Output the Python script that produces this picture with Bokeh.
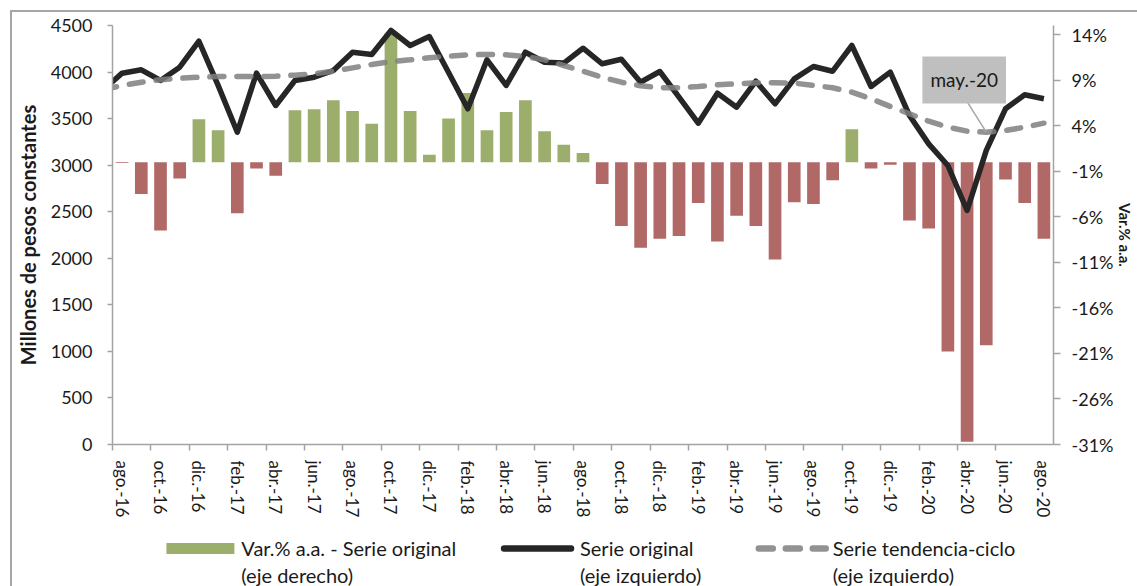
import math
from bokeh.plotting import figure
from bokeh.layouts import column
from bokeh.models import (Range1d, LinearAxis, FixedTicker, PrintfTickFormatter,
                          Label, ColumnDataSource)
from bokeh.core.properties import value
from bokeh.embed import file_html
from bokeh.resources import INLINE

# ---------------- data ----------------
months = ["jul.-16", "ago.-16", "sep.-16", "oct.-16", "nov.-16", "dic.-16",
          "ene.-17", "feb.-17", "mar.-17", "abr.-17", "may.-17", "jun.-17",
          "jul.-17", "ago.-17", "sep.-17", "oct.-17", "nov.-17", "dic.-17",
          "ene.-18", "feb.-18", "mar.-18", "abr.-18", "may.-18", "jun.-18",
          "jul.-18", "ago.-18", "sep.-18", "oct.-18", "nov.-18", "dic.-18",
          "ene.-19", "feb.-19", "mar.-19", "abr.-19", "may.-19", "jun.-19",
          "jul.-19", "ago.-19", "sep.-19", "oct.-19", "nov.-19", "dic.-19",
          "ene.-20", "feb.-20", "mar.-20", "abr.-20", "may.-20", "jun.-20",
          "jul.-20", "ago.-20"]

# Var.% a.a. - Serie original (right axis); jul.-16 not shown in the chart
var_pct = [float("nan"),
           -0.1, -3.5, -7.5, -1.8, 4.7,
           3.5, -5.6, -0.7, -1.5, 5.7, 5.8, 6.8, 5.6, 4.2, 14.1, 5.6, 0.8,
           4.8, 7.6, 3.5, 5.5, 6.8, 3.4, 1.9, 1.0, -2.4, -7.0, -9.4, -8.4,
           -8.1, -4.5, -8.7, -5.9, -7.0, -10.7, -4.4, -4.6, -2.0, 3.6, -0.7, -0.3,
           -6.4, -7.3, -20.8, -30.7, -20.1, -1.9, -4.5, -8.4]

# Serie original (left axis, millones de pesos constantes)
serie_original = [3807,
                  3988, 4024, 3910, 4052, 4331,
                  3856, 3354, 3988, 3641, 3909, 3945, 4017, 4213, 4189, 4446, 4285, 4382,
                  3995, 3605, 4131, 3856, 4213, 4106, 4096, 4256, 4089, 4138, 3891, 4006,
                  3730, 3451, 3773, 3623, 3902, 3659, 3927, 4060, 4009, 4285, 3845, 3999,
                  3533, 3229, 2996, 2513, 3158, 3605, 3756, 3713]

# Serie tendencia-ciclo (left axis)
tendencia = [3809,
             3856, 3891, 3917, 3934, 3945,
             3952, 3952, 3952, 3956, 3967, 3981, 4009, 4045, 4081, 4113, 4131, 4153,
             4170, 4185, 4189, 4185, 4167, 4131, 4070, 4009, 3945, 3891, 3852, 3831,
             3831, 3845, 3863, 3874, 3884, 3884, 3881, 3856, 3831, 3784, 3713, 3630,
             3552, 3472, 3408, 3365, 3354, 3372, 3408, 3451]

left_ticks = list(range(0, 4501, 500))
right_ticks = list(range(-31, 15, 5))
annot_month = "may.-20"

legend_labels = [("Var.% a.a. - Serie original", "(eje derecho)"),
                 ("Serie original", "(eje izquierdo)"),
                 ("Serie tendencia-ciclo", "(eje izquierdo)")]

# ---------------- styling ----------------
FONT = "Lato"
AXIS_COLOR = "#a3a3a3"
TEXT_COLOR = "#1a1a1a"
GREEN = "#9bae6b"
RED = "#b06967"
BLACK = "#262626"
GRAY = "#7f7f7f"
TREND_DASH = "14 13"

xs = [i - 1 for i in range(len(months))]          # ago.-16 -> 0
colors = [GREEN if (v == v and v >= 0) else RED for v in var_pct]

src = ColumnDataSource(dict(x=xs, var=var_pct, orig=serie_original,
                            trend=tendencia, color=colors))

p = figure(frame_width=941, frame_height=419,
           x_range=Range1d(-0.5, len(months) - 1.5),
           y_range=Range1d(0, 4500),
           output_backend="svg", toolbar_location=None,
           min_border_left=99, min_border_right=85,
           min_border_top=13, min_border_bottom=80)
p.outline_line_color = None
p.xgrid.visible = False
p.ygrid.visible = False
p.background_fill_color = "white"
p.border_fill_color = "white"

p.extra_y_ranges = {"pct": Range1d(-31, 15)}

# bars
p.vbar(x="x", top="var", bottom=0, width=0.66, source=src,
       fill_color="color", line_color=None, y_range_name="pct")
# original series
p.line("x", "orig", source=src, line_color=BLACK, line_width=5.5, line_join="round")
# trend-cycle
p.line("x", "trend", source=src, line_color=GRAY, line_alpha=0.85,
       line_width=5.5, line_dash=TREND_DASH, line_cap="round")

# ---------------- axes ----------------
yl = p.yaxis[0]
yl.ticker = FixedTicker(ticks=left_ticks)
yl.axis_label = "Millones de pesos constantes"
yl.axis_label_standoff = 8

yr = LinearAxis(y_range_name="pct",
                ticker=FixedTicker(ticks=right_ticks),
                formatter=PrintfTickFormatter(format="%d%%"))
yr.axis_label = "Var.% a.a."
yr.axis_label_standoff = 0
p.add_layout(yr, "right")

xa = p.xaxis[0]
xa.ticker = FixedTicker(ticks=xs[1::2], minor_ticks=[x - 0.5 for x in xs[1:-1:2]])
xa.major_label_overrides = {x: months[i] for i, x in enumerate(xs) if i % 2 == 1}
xa.major_label_orientation = "vertical"
xa.major_tick_line_color = None
xa.major_tick_out = 6
xa.minor_tick_out = 6
xa.minor_tick_in = 0
xa.minor_tick_line_color = AXIS_COLOR
xa.minor_tick_line_width = 1.5
xa.major_label_standoff = 10

for ax in (yl, yr, xa):
    ax.axis_line_color = AXIS_COLOR
    ax.axis_line_width = 1.5
    ax.major_label_text_font = FONT
    ax.major_label_text_color = TEXT_COLOR
    ax.major_label_text_font_size = "18px"
    ax.axis_label_text_font = FONT
    ax.axis_label_text_font_style = "bold"
    ax.axis_label_text_color = TEXT_COLOR
xa.major_label_text_font_size = "17px"
yl.axis_label_text_font_size = "20px"
yr.axis_label_text_font_size = "15px"
for ax in (yl, yr):
    ax.major_tick_line_color = AXIS_COLOR
    ax.major_tick_line_width = 1.5
    ax.major_tick_in = 0
    ax.minor_tick_line_color = None
yl.major_tick_out = 5
yl.major_label_standoff = 15
yr.major_tick_out = 7
yr.major_label_standoff = 11

# ---------------- annotation ----------------
ai = months.index(annot_month)
ax_, ay_ = xs[ai], tendencia[ai]
p.segment(x0=ax_ - 1.15, y0=3730, x1=ax_, y1=ay_, line_color="#a6a6a6", line_width=1.5)
p.add_layout(Label(x=ax_ - 1.15, y=3915, text=annot_month, text_align="center",
                   text_baseline="middle", text_font=FONT, text_font_size="19px",
                   text_color=TEXT_COLOR, background_fill_color="#bfbfbf",
                   padding=(8, 12)))

# ---------------- legend (own strip below the chart; frame aligned with the chart's) ----------------
leg = figure(width=1125, height=62, x_range=Range1d(111, 1052), y_range=Range1d(586, 524),
             output_backend="svg", toolbar_location=None, min_border=0,
             x_axis_location=None, y_axis_location=None)
leg.grid.visible = False
leg.outline_line_color = None
leg.background_fill_color = "white"
leg.border_fill_color = "white"

key_left = [165, 503, 758]
key_len = [68, 67, 67]
text_left = [240, 579, 832]
row1, row2, key_y = 547, 574, 548

leg.quad(left=key_left[0], right=key_left[0] + key_len[0], top=key_y - 5.5,
         bottom=key_y + 5.5, fill_color=GREEN, line_color=None)
leg.line([key_left[1], key_left[1] + key_len[1]], [key_y, key_y], line_color=BLACK,
         line_width=6.5, line_cap="round")
leg.line([key_left[2], key_left[2] + key_len[2]], [key_y, key_y], line_color=GRAY,
         line_alpha=0.85, line_width=6.5, line_dash=TREND_DASH, line_cap="round")
leg.text(x=[t for t in text_left for _ in (0, 1)],
         y=[row1, row2] * 3,
         text=[s for pair in legend_labels for s in pair],
         text_baseline="middle", text_align="left", text_font=value(FONT),
         text_font_size="20px", text_color=TEXT_COLOR)

layout = column(p, leg, spacing=0, margin=(10, 0, 0, 10),
                styles={"border-top": "2px solid #a6a6a6",
                        "border-left": "2px solid #a6a6a6"})

open("out.html", "w").write(file_html(layout, INLINE))
